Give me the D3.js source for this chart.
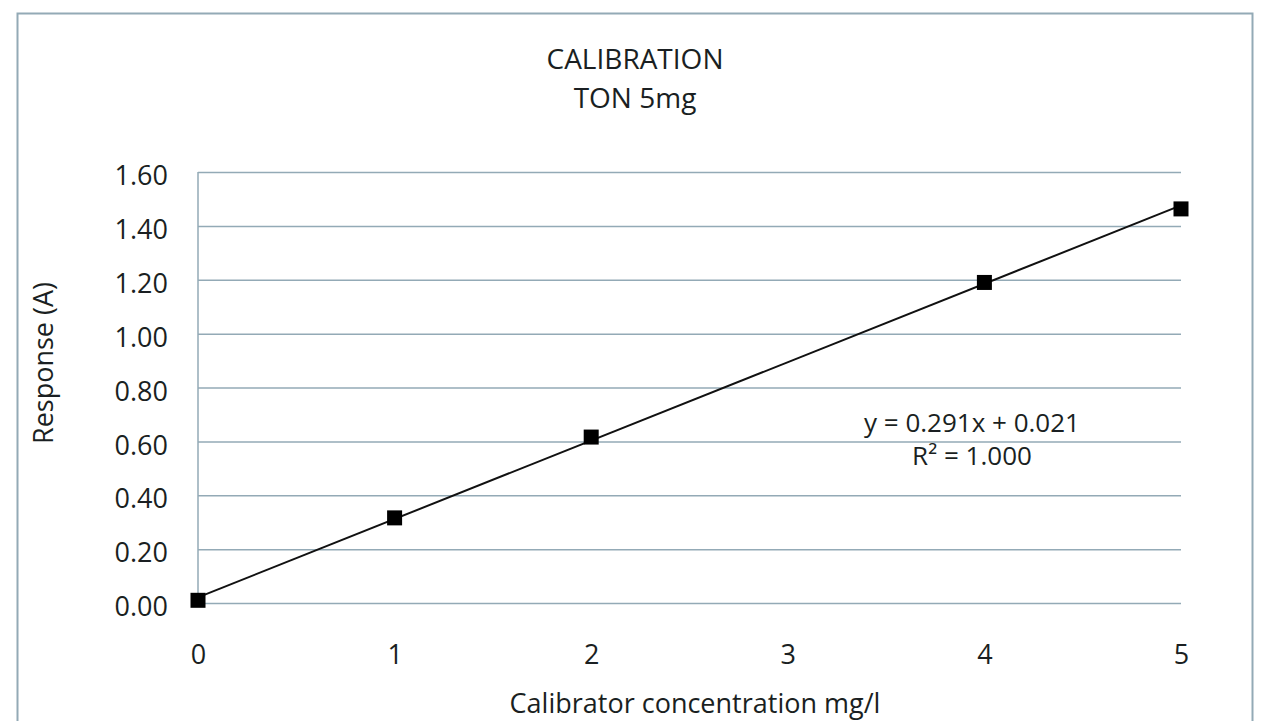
<!DOCTYPE html>
<html>
<head>
<meta charset="utf-8">
<script src="https://cdn.jsdelivr.net/npm/d3@7"></script>
<style>
  body { margin: 0; background: #fff; }
  text { font-family: "Open Sans", Lato, sans-serif; fill: #1a1f22; }
</style>
</head>
<body>
<div id="chart"></div>
<script>
// data
var concentration = [0, 1, 2, 4, 5];
var response = [0.01, 0.316, 0.616, 1.19, 1.463];
var xTicks = [0, 1, 2, 3, 4, 5];
var yTicks = [0, 0.2, 0.4, 0.6, 0.8, 1.0, 1.2, 1.4, 1.6];
// trendline from the label
var slope = 0.291;
var intercept = 0.021;
var titleLines = ['CALIBRATION', 'TON 5mg'];
var eqLines = ['y = 0.291x + 0.021', 'R² = 1.000'];

var W = 1263, H = 721;
var margin = {top: 172, right: 82, bottom: 118, left: 198};
var width = W - margin.left - margin.right;
var height = H - margin.top - margin.bottom;
var gridColor = '#93aab6';
var fontSize = 27;

var svg = d3.select('#chart')
  .append('svg')
  .attr('width', W)
  .attr('height', H);

// rand van het chart-vlak
svg.append('rect')
  .attr('x', 17.5).attr('y', 13.5)
  .attr('width', 1235).attr('height', 760)
  .attr('fill', 'none')
  .attr('stroke', gridColor)
  .attr('stroke-width', 2);

var g = svg.append('g')
  .attr('transform', 'translate(' + margin.left + ',' + margin.top + ')');

var xScale = d3.scaleLinear().domain([0, 5]).range([0, width]);
var yScale = d3.scaleLinear().domain([0, 1.6]).range([height, 0]);

// y-as met gridlijnen
var yAxis = d3.axisLeft(yScale)
  .tickValues(yTicks)
  .tickSizeInner(-width)
  .tickSizeOuter(0)
  .tickPadding(30)
  .tickFormat(d3.format('.2f'));

var yg = g.append('g').call(yAxis);
yg.select('.domain').remove();
yg.selectAll('line').attr('stroke', gridColor).attr('stroke-width', 1.5);
yg.selectAll('text')
  .attr('font-size', fontSize)
  .attr('dy', '0.47em')
  .style('fill', '#1a1f22');

// verticale as-lijn
g.append('line')
  .attr('x1', 0).attr('x2', 0)
  .attr('y1', 0).attr('y2', height)
  .attr('stroke', gridColor)
  .attr('stroke-width', 1.5);

// x-as
var xAxis = d3.axisBottom(xScale)
  .tickValues(xTicks)
  .tickSize(0)
  .tickPadding(42)
  .tickFormat(d3.format('d'));

var xg = g.append('g')
  .attr('transform', 'translate(0,' + height + ')')
  .call(xAxis);
xg.select('.domain').remove();
xg.selectAll('text')
  .attr('font-size', fontSize)
  .style('fill', '#1a1f22');
g.selectAll('g').attr('font-family', null).attr('font-size', null);

// trendlijn
g.append('line')
  .attr('x1', xScale(0)).attr('y1', yScale(intercept))
  .attr('x2', xScale(5)).attr('y2', yScale(slope * 5 + intercept))
  .attr('stroke', '#111')
  .attr('stroke-width', 2);

// meetpunten
var size = 15;
g.selectAll('.point')
  .data(concentration)
  .enter().append('rect')
  .attr('class', 'point')
  .attr('x', function(d){ return xScale(d) - size / 2; })
  .attr('y', function(d, i){ return yScale(response[i]) - size / 2; })
  .attr('width', size)
  .attr('height', size)
  .attr('fill', '#000');

// titel
svg.selectAll('.title')
  .data(titleLines)
  .enter().append('text')
  .attr('class', 'title')
  .attr('x', 635)
  .attr('y', function(d, i){ return 69 + i * 39; })
  .attr('text-anchor', 'middle')
  .attr('font-size', 28)
  .text(function(d){ return d; });

// vergelijking
svg.selectAll('.eq')
  .data(eqLines)
  .enter().append('text')
  .attr('class', 'eq')
  .attr('x', 972)
  .attr('y', function(d, i){ return 432 + i * 33; })
  .attr('text-anchor', 'middle')
  .attr('font-size', 26)
  .text(function(d){ return d; });

// label voor de y-as
svg.append('text')
  .attr('transform', 'translate(53,363) rotate(-90)')
  .attr('text-anchor', 'middle')
  .attr('font-size', fontSize)
  .text('Response (A)');

// label voor de x-as
svg.append('text')
  .attr('x', 695)
  .attr('y', 713)
  .attr('text-anchor', 'middle')
  .attr('font-size', fontSize)
  .text('Calibrator concentration mg/l');
</script>
</body>
</html>
